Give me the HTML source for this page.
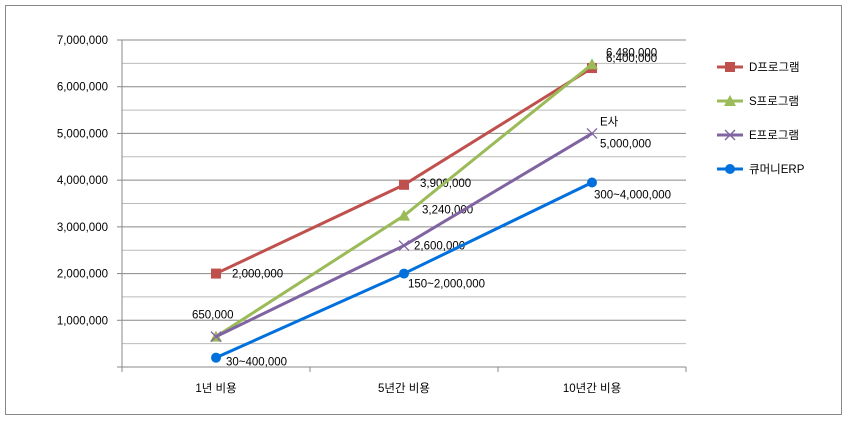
<!DOCTYPE html>
<html><head><meta charset="utf-8"><style>
body{margin:0;background:#fff;width:847px;height:423px;overflow:hidden}
text{font-family:"DejaVu Sans","Noto Sans CJK KR",sans-serif;font-size:11px;fill:#000}
</style></head><body>
<svg id="chart" width="847" height="423" xmlns="http://www.w3.org/2000/svg">
<rect x="5.5" y="5.5" width="836" height="409" fill="#fff" stroke="#888"/>
<g id="grid"></g><g id="axes"></g><g id="series"></g><g id="legend"></g>
</svg>
<script>
const categories=["1년 비용","5년간 비용","10년간 비용"];
const seriesNames=["D프로그램","S프로그램","E프로그램","큐머니ERP"];
const dVals=[2000000,3900000,6400000];
const sVals=[650000,3240000,6480000];
const eVals=[650000,2600000,5000000];
const qVals=[200000,2000000,3950000];
const yTicks=[1000000,2000000,3000000,4000000,5000000,6000000,7000000];
const dLabels=["2,000,000","3,900,000","6,400,000"];
const sLabels=["650,000","3,240,000","6,480,000"];
const eLabels=["","2,600,000","5,000,000"];
const qLabels=["30~400,000","150~2,000,000","300~4,000,000"];
const NS="http://www.w3.org/2000/svg";
const X0=122,X1=686,Y0=367,Y1=40,YMAX=7000000;
const y=v=>Y0-(v/YMAX)*(Y0-Y1);
const band=(X1-X0)/categories.length;
const x=i=>X0+band*(i+0.5);
function mk(t,a,p){const e=document.createElementNS(NS,t);for(const k in a)e.setAttribute(k,a[k]);p.appendChild(e);return e;}
const grid=document.getElementById('grid'),axes=document.getElementById('axes'),ser=document.getElementById('series'),leg=document.getElementById('legend');
for(let v=500000;v<=YMAX;v+=500000){
 const l=mk('line',{x1:X0,x2:X1,y1:y(v),y2:y(v),stroke:(v%1000000==0)?'#888':'#bbb'},grid);
 
 
}
yTicks.forEach(v=>{
 const t=mk('text',{x:X0-14,y:y(v)+4,'text-anchor':'end'},axes);t.textContent=v.toLocaleString('en-US');
 
 
 mk('line',{x1:X0-5,x2:X0,y1:y(v),y2:y(v),stroke:'#888'},axes);
});
mk('line',{x1:X0,x2:X0,y1:Y1,y2:Y0+5,stroke:'#888'},axes);
mk('line',{x1:X0-5,x2:X1,y1:Y0,y2:Y0,stroke:'#888'},axes);
for(let i=0;i<=categories.length;i++)mk('line',{x1:X0+band*i,x2:X0+band*i,y1:Y0,y2:Y0+5,stroke:'#888'},axes);
categories.forEach((c,i)=>{const t=mk('text',{x:x(i),y:392,'text-anchor':'middle'},axes);t.textContent=c;
 
 });
const colors=["#c0504d","#9bbb59","#8064a2","#0070dd"];
const all=[dVals,sVals,eVals,qVals],labs=[dLabels,sLabels,eLabels,qLabels];
function marker(k,cx,cy,g){
 if(k==0)mk('rect',{x:cx-5,y:cy-5,width:10,height:10,fill:colors[0]},g);
 else if(k==1)mk('polygon',{points:`${cx},${cy-6} ${cx+6},${cy+5} ${cx-6},${cy+5}`,fill:colors[1]},g);
 else if(k==2){mk('line',{x1:cx-5,y1:cy-5,x2:cx+5,y2:cy+5,stroke:colors[2],'stroke-width':1.3},g);mk('line',{x1:cx-5,y1:cy+5,x2:cx+5,y2:cy-5,stroke:colors[2],'stroke-width':1.3},g);}
 else mk('circle',{cx:cx,cy:cy,r:5,fill:colors[3]},g);
}
const offs=[
 [[16,4],[16,2],[14,-6]],
 [[-24,-18],[18,-2],[14,-8]],
 [[0,0],[10,4],[8,14]],
 [[10,8],[4,14],[2,16]]
];
all.forEach((vals,k)=>{
 const g=mk('g',{},ser);
 
 
 mk('polyline',{points:vals.map((v,i)=>x(i)+','+y(v)).join(' '),fill:'none',stroke:colors[k],'stroke-width':3},g);
 vals.forEach((v,i)=>{marker(k,x(i),y(v),g);
  if(labs[k][i]){const [dx,dy]=offs[k][i];
   const t=mk('text',{x:x(i)+dx,y:y(v)+dy},g);t.textContent=labs[k][i];
   
   }
 });
});
const ea=mk('text',{x:x(2)+8,y:y(5000000)-8},ser);ea.textContent="E사";


seriesNames.forEach((n,k)=>{const ly=67+k*34;const g=mk('g',{},leg);
 
 
 mk('line',{x1:717,x2:743,y1:ly,y2:ly,stroke:colors[k],'stroke-width':3},g);marker(k,730,ly,g);
 const t=mk('text',{x:749,y:ly+4},g);t.textContent=n;});
</script>
<style>text{font-family:"Liberation Sans","Noto Sans CJK KR",sans-serif;font-size:11.5px}</style>
</body></html>
